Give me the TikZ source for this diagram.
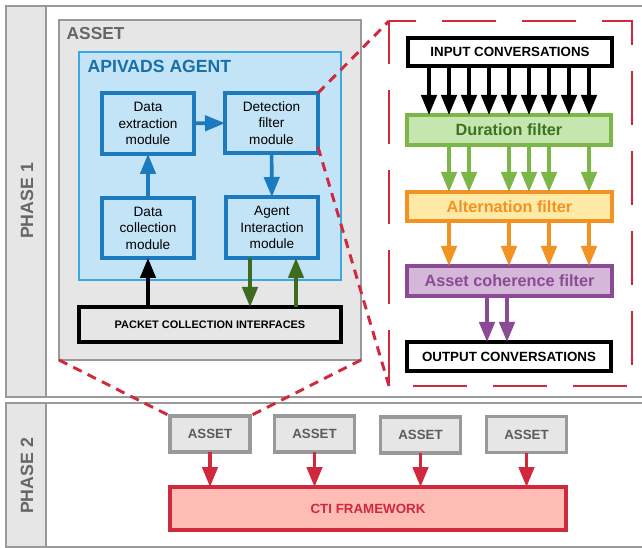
\documentclass[tikz,border=0pt]{standalone}
\usepackage{fontspec}
\setmainfont{Liberation Sans}
\usetikzlibrary{arrows.meta,calc}
\definecolor{grayfill}{HTML}{E6E6E6}
\definecolor{grayline}{HTML}{999999}
\definecolor{graytext}{HTML}{666666}
\definecolor{bluefill}{HTML}{C3E4F7}
\definecolor{blueline}{HTML}{3CA8E0}
\definecolor{bluedark}{HTML}{1C7BBF}
\definecolor{bluetext}{HTML}{1A6FA8}
\definecolor{greenfill}{HTML}{C6E6B0}
\definecolor{greenline}{HTML}{7AB648}
\definecolor{greentext}{HTML}{3B7320}
\definecolor{olive}{HTML}{3E6B1F}
\definecolor{orangefill}{HTML}{FFE9A6}
\definecolor{orangeline}{HTML}{F29222}
\definecolor{purplefill}{HTML}{D5B8D9}
\definecolor{purpleline}{HTML}{8B4A94}
\definecolor{redline}{HTML}{D0283C}
\definecolor{redfill}{HTML}{FDBCB4}
\tikzset{
  wh/.style 2 args={minimum width=#1*0.75pt, minimum height=#2*0.75pt, inner sep=0pt, outer sep=0pt},
  panel/.style={draw=grayline, line width=2.2pt},
  modbox/.style={draw=bluedark, fill=bluefill, line width=2.3pt, align=center, text=black,
     font=\fontsize{10.2}{12.4}\selectfont},
  filterbox/.style={line width=2.3pt, font=\fontsize{12.2}{14}\selectfont\bfseries},
  convbox/.style={draw=black, fill=white, line width=2.3pt, font=\fontsize{10}{12}\selectfont\bfseries},
  smallasset/.style={draw=grayline, fill=grayfill, line width=2.3pt, text=graytext!90!black,
     font=\fontsize{10}{12}\selectfont\bfseries, wh={80}{36}},
  arr/.style={line width=2.7pt, -{Triangle[length=15pt,width=11.5pt]}},
  bigdash/.style={draw=redline, line width=2.2pt, dash pattern=on 40pt off 20pt, dash phase=20pt},
  smalldash/.style={draw=redline, line width=2.2pt, dash pattern=on 7pt off 5pt},
}
\begin{document}
\begin{tikzpicture}[x=0.75pt,y=-0.75pt]
\useasboundingbox (0,0) rectangle (642,548);
% phase panels
\draw[panel, fill=white] (46,6) rectangle (660,397);
\node[panel, fill=grayfill, wh={40}{391}] (ph1) at (26,201.5) {};
\node[rotate=90, text=graytext, font=\fontsize{13.3}{15}\selectfont\bfseries] (ph1t) at (27,201) {PHASE 1};
\draw[panel, fill=white] (46,403) rectangle (660,547);
\node[panel, fill=grayfill, wh={40}{144}] (ph2) at (26,475) {};
\node[rotate=90, text=graytext, font=\fontsize{13.3}{15}\selectfont\bfseries] (ph2t) at (27,476) {PHASE 2};
% big asset
\node[panel, fill=grayfill, wh={302}{340}] (bigasset) at (210,190) {};
\node[anchor=west, text=graytext, font=\fontsize{13}{15}\selectfont\bfseries] (assetlbl) at (62,34) {ASSET};
% agent
\node[draw=blueline, fill=bluefill, line width=1.9pt, wh={262}{228}] (agent) at (210,166) {};
\node[anchor=west, text=bluetext, font=\fontsize{13.2}{15}\selectfont\bfseries] (agentlbl) at (83,66) {APIVADS AGENT};
\node[modbox, wh={92}{61}] (dext) at (148,123.5) {Data\\extraction\\module};
\node[modbox, wh={93}{60}] (dfil) at (271.5,123) {Detection\\filter\\module};
\node[modbox, wh={92}{60}] (dcol) at (148,228) {Data\\collection\\module};
\node[modbox, wh={92}{61}] (aint) at (272,227.5) {Agent\\Interaction\\module};
\node[draw=black, fill=grayfill, line width=2.3pt, wh={262}{35}, font=\fontsize{8.2}{10}\selectfont\bfseries] (pci) at (210,324.5) {PACKET COLLECTION INTERFACES};
\draw[arr, bluedark] (dcol) -- (dext);
\draw[arr, bluedark] (dext) -- (dfil);
\draw[arr, bluedark] (dfil) -- (aint);
\draw[arr, black] (pci.north -| dcol.south) -- (dcol.south);
\draw[arr, olive] (250,0 |- aint.south) -- (250,0 |- pci.north);
\draw[arr, olive] (296,0 |- pci.north) -- (296,0 |- aint.south);
% zoom box
\node[wh={243}{365}] (zoombox) at (510.5,203.5) {};
\draw[bigdash] (zoombox.north west) -- (zoombox.north east) -- (zoombox.south east) -- (zoombox.south west) -- cycle;
\node[convbox, wh={204}{28}] (inp) at (510,52) {INPUT CONVERSATIONS};
\node[filterbox, draw=greenline, fill=greenfill, text=greentext, wh={204}{30}] (dur) at (509,130) {Duration filter};
\node[filterbox, draw=orangeline, fill=orangefill, text=orangeline, wh={205}{29}] (alt) at (509.5,206.5) {Alternation filter};
\node[filterbox, draw=purpleline, fill=purplefill, text=purpleline, wh={205}{30}] (coh) at (509.5,281) {Asset coherence filter};
\node[convbox, wh={204}{29}] (out) at (509,356.5) {OUTPUT CONVERSATIONS};
\foreach \x in {429,449,...,589} \draw[arr, black] (\x,0 |- inp.south) -- (\x,0 |- dur.north);
\foreach \x in {449,469,509,529,549,589} \draw[arr, greenline] (\x,0 |- dur.south) -- (\x,0 |- alt.north);
\foreach \x in {449,509,549,589} \draw[arr, orangeline] (\x,0 |- alt.south) -- (\x,0 |- coh.north);
\foreach \x in {487,507} \draw[arr, purpleline] (\x,0 |- coh.south) -- (\x,0 |- out.north);
% phase 2
\node[smallasset] (sa1) at (210,434) {ASSET};
\node[smallasset] (sa2) at (314.5,434) {ASSET};
\node[smallasset] (sa3) at (420.5,435) {ASSET};
\node[smallasset] (sa4) at (526.5,434.5) {ASSET};
\node[draw=redline, fill=redfill, line width=2.3pt, wh={396}{43}, text=redline, font=\fontsize{10}{12}\selectfont\bfseries] (cti) at (368,508.5) {CTI FRAMEWORK};
\foreach \i in {1,...,4} \draw[arr, redline] (sa\i.south) -- (sa\i.south |- cti.north);
% dashed connectors
\draw[smalldash] (dfil.north east) -- (zoombox.north west);
\draw[smalldash] ([yshift=4.5pt]dfil.south east) -- (zoombox.south west);
\draw[smalldash] (bigasset.south west) -- (sa1.north west);
\draw[smalldash] (bigasset.south east) -- (sa1.north east);
\end{tikzpicture}
\end{document}
